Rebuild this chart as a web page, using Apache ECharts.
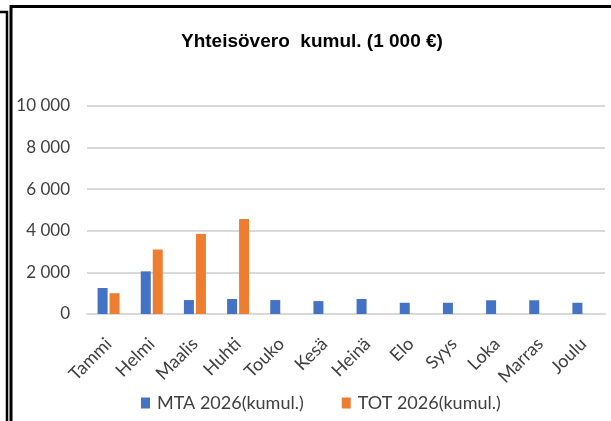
<!DOCTYPE html>
<html>
<head>
<meta charset="utf-8">
<script src="https://cdn.jsdelivr.net/npm/echarts@6/dist/echarts.min.js"></script>
<style>
  html, body { margin: 0; padding: 0; background: #fff; }
  #chart { width: 611px; height: 421px; }
</style>
</head>
<body>
<div id="chart"></div>
<script>
const months = ['Tammi', 'Helmi', 'Maalis', 'Huhti', 'Touko', 'Kesä', 'Heinä', 'Elo', 'Syys', 'Loka', 'Marras', 'Joulu'];
const mta2026 = [1250, 2050, 670, 720, 670, 620, 720, 540, 540, 660, 660, 540];
const tot2026 = [1000, 3100, 3850, 4570, null, null, null, null, null, null, null, null];
const seriesNames = ['MTA 2026(kumul.)', 'TOT 2026(kumul.)'];
const colorList = ['#4472C4', '#ED7D31'];

const fmt = (v) => String(v).replace(/\B(?=(\d{3})+(?!\d))/g, ' ');

const myChart = echarts.init(document.getElementById('chart'));
const labelFont = 'Lato, "Open Sans", sans-serif';

const option = {
    animation: false,
    color: colorList,
    title: {
        text: 'Yhteisövero  kumul. (1 000 €)',
        left: 181,
        top: 32,
        padding: 0,
        textStyle: {
            fontFamily: '"Liberation Sans", Arial, sans-serif',
            fontSize: 19,
            fontWeight: 'bold',
            color: '#000'
        }
    },
    legend: {
        left: 141,
        top: 394,
        padding: 0,
        itemWidth: 9,
        itemHeight: 11,
        itemGap: 38,
        icon: 'rect',
        textStyle: {
            fontFamily: labelFont,
            fontSize: 18,
            color: '#404040',
            padding: [0, 0, 0, 2]
        },
        data: seriesNames
    },
    grid: {
        left: 87,
        right: 6,
        top: 106,
        bottom: 107
    },
    xAxis: {
        type: 'category',
        data: months,
        axisLine: { show: true, lineStyle: { color: '#D9D9D9', width: 2 } },
        axisTick: { show: false },
        axisLabel: {
            rotate: 45,
            margin: 27,
            interval: 0,
            fontFamily: labelFont,
            fontSize: 18,
            color: '#404040'
        }
    },
    yAxis: {
        type: 'value',
        min: 0,
        max: 10000,
        interval: 2000,
        axisLine: { show: false },
        axisTick: { show: false },
        splitLine: { lineStyle: { color: '#D9D9D9', width: 2 } },
        axisLabel: {
            margin: 17,
            fontFamily: labelFont,
            fontSize: 17,
            color: '#404040',
            formatter: fmt
        }
    },
    series: [
        {
            name: seriesNames[0],
            type: 'bar',
            data: mta2026,
            barWidth: 10,
            barGap: '20%'
        },
        {
            name: seriesNames[1],
            type: 'bar',
            data: tot2026,
            barWidth: 10,
            barGap: '20%'
        }
    ],
    graphic: [
        {
            type: 'polyline',
            shape: { points: [[0, 12], [7, 12], [7, 421]] },
            style: { stroke: '#000', lineWidth: 2.5, fill: null }
        },
        {
            type: 'polyline',
            shape: { points: [[11, 421], [11, 6.5], [611, 6.5]] },
            style: { stroke: '#000', lineWidth: 3, fill: null }
        }
    ]
};

myChart.setOption(option);
</script>
</body>
</html>
